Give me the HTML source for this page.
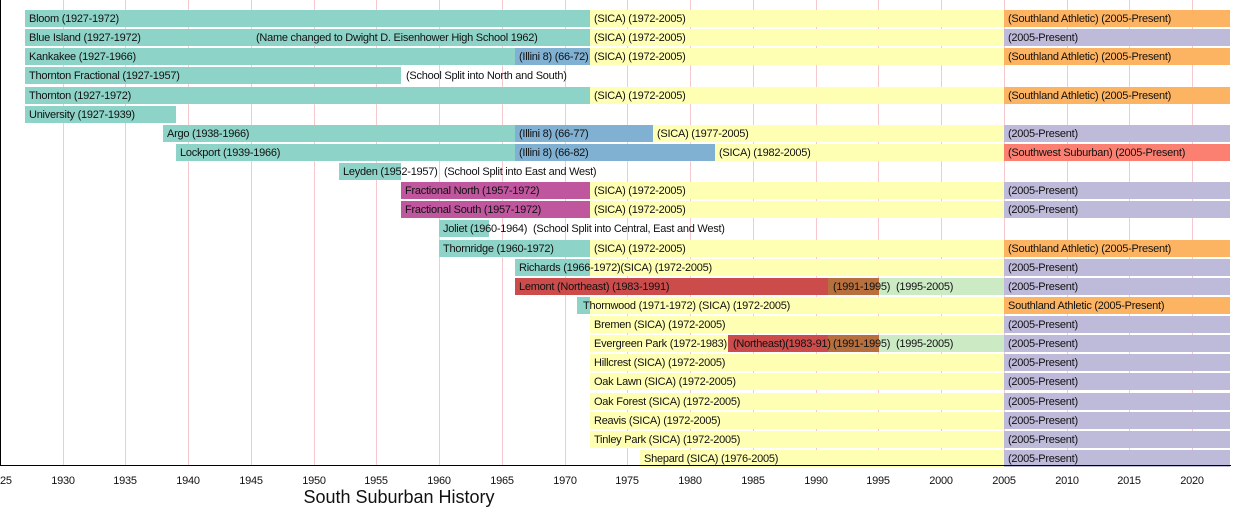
<!DOCTYPE html>
<html><head><meta charset="utf-8"><style>
body{margin:0;width:1250px;height:515px;background:#fff;position:relative;overflow:hidden;font-family:"Liberation Sans",Arial,sans-serif}
.g{position:absolute;top:0;height:465px;width:1px;background:#f6c9cf;z-index:-2}
.r{position:absolute;left:0;height:17px;width:1250px}
.b{position:absolute;top:0;height:17px;font-size:11px;letter-spacing:-0.25px;line-height:18px;padding-left:4px;box-sizing:border-box;white-space:nowrap;color:#111}
.b::before{content:"";position:absolute;left:0;top:0;right:0;bottom:0;background:var(--c);z-index:-1}
.t{position:absolute;top:0;height:17px;font-size:11px;letter-spacing:-0.25px;line-height:18px;white-space:nowrap;color:#111}
.T{--c:#8dd3c7}.Y{--c:#ffffb3}.P{--c:#bebada}.O{--c:#fdb462}.S{--c:#fb8072}.B{--c:#80b1d3}.M{--c:#c0569e}.R{--c:#cc4b4b}.N{--c:#b7703d}.G{--c:#ccebc5}
.k{position:absolute;top:475px;font-size:11px;letter-spacing:-0.25px;width:40px;margin-left:-20px;text-align:center;color:#111}
</style></head><body>
<div class="g" style="left:63px"></div><div class="g" style="left:125px"></div><div class="g" style="left:188px"></div><div class="g" style="left:251px"></div><div class="g" style="left:314px"></div><div class="g" style="left:376px"></div><div class="g" style="left:439px"></div><div class="g" style="left:502px"></div><div class="g" style="left:565px"></div><div class="g" style="left:627px"></div><div class="g" style="left:690px"></div><div class="g" style="left:753px"></div><div class="g" style="left:816px"></div><div class="g" style="left:878px"></div><div class="g" style="left:941px"></div><div class="g" style="left:1004px"></div><div class="g" style="left:1067px"></div><div class="g" style="left:1129px"></div><div class="g" style="left:1192px"></div>

<div class="r" style="top:10px"><div class="b T" style="left:25px;width:565px">Bloom (1927-1972)</div><div class="b Y" style="left:590px;width:414px">(SICA) (1972-2005)</div><div class="b O" style="left:1004px;width:226px">(Southland Athletic) (2005-Present)</div></div>
<div class="r" style="top:29px"><div class="b T" style="left:25px;width:565px">Blue Island (1927-1972)</div><div class="t" style="left:256px">(Name changed to Dwight D. Eisenhower High School 1962)</div><div class="b Y" style="left:590px;width:414px">(SICA) (1972-2005)</div><div class="b P" style="left:1004px;width:226px">(2005-Present)</div></div>
<div class="r" style="top:48px"><div class="b T" style="left:25px;width:490px">Kankakee (1927-1966)</div><div class="b B" style="left:515px;width:75px">(Illini 8) (66-72)</div><div class="b Y" style="left:590px;width:414px">(SICA) (1972-2005)</div><div class="b O" style="left:1004px;width:226px">(Southland Athletic) (2005-Present)</div></div>
<div class="r" style="top:67px"><div class="b T" style="left:25px;width:376px">Thornton Fractional (1927-1957)</div><div class="t" style="left:406px">(School Split into North and South)</div></div>
<div class="r" style="top:87px"><div class="b T" style="left:25px;width:565px">Thornton (1927-1972)</div><div class="b Y" style="left:590px;width:414px">(SICA) (1972-2005)</div><div class="b O" style="left:1004px;width:226px">(Southland Athletic) (2005-Present)</div></div>
<div class="r" style="top:106px"><div class="b T" style="left:25px;width:151px">University (1927-1939)</div></div>
<div class="r" style="top:125px"><div class="b T" style="left:163px;width:352px">Argo (1938-1966)</div><div class="b B" style="left:515px;width:138px">(Illini 8) (66-77)</div><div class="b Y" style="left:653px;width:351px">(SICA) (1977-2005)</div><div class="b P" style="left:1004px;width:226px">(2005-Present)</div></div>
<div class="r" style="top:144px"><div class="b T" style="left:176px;width:339px">Lockport (1939-1966)</div><div class="b B" style="left:515px;width:200px">(Illini 8) (66-82)</div><div class="b Y" style="left:715px;width:289px">(SICA) (1982-2005)</div><div class="b S" style="left:1004px;width:226px">(Southwest Suburban) (2005-Present)</div></div>
<div class="r" style="top:163px"><div class="b T" style="left:339px;width:62px">Leyden (1952-1957)</div><div class="t" style="left:444px">(School Split into East and West)</div></div>
<div class="r" style="top:182px"><div class="b M" style="left:401px;width:189px">Fractional North (1957-1972)</div><div class="b Y" style="left:590px;width:414px">(SICA) (1972-2005)</div><div class="b P" style="left:1004px;width:226px">(2005-Present)</div></div>
<div class="r" style="top:201px"><div class="b M" style="left:401px;width:189px">Fractional South (1957-1972)</div><div class="b Y" style="left:590px;width:414px">(SICA) (1972-2005)</div><div class="b P" style="left:1004px;width:226px">(2005-Present)</div></div>
<div class="r" style="top:220px"><div class="b T" style="left:439px;width:50px">Joliet (1960-1964)</div><div class="t" style="left:533px">(School Split into Central, East and West)</div></div>
<div class="r" style="top:240px"><div class="b T" style="left:439px;width:151px">Thornridge (1960-1972)</div><div class="b Y" style="left:590px;width:414px">(SICA) (1972-2005)</div><div class="b O" style="left:1004px;width:226px">(Southland Athletic) (2005-Present)</div></div>
<div class="r" style="top:259px"><div class="b Y" style="left:590px;width:414px"></div><div class="b T" style="left:515px;width:75px">Richards (1966-1972)(SICA) (1972-2005)</div><div class="b P" style="left:1004px;width:226px">(2005-Present)</div></div>
<div class="r" style="top:278px"><div class="b R" style="left:515px;width:313px">Lemont (Northeast) (1983-1991)</div><div class="b N" style="left:828px;width:51px;padding-left:5px">(1991-1995)</div><div class="b G" style="left:879px;width:125px;padding-left:17px">(1995-2005)</div><div class="b P" style="left:1004px;width:226px">(2005-Present)</div></div>
<div class="r" style="top:297px"><div class="b Y" style="left:590px;width:414px"></div><div class="b T" style="left:577px;width:13px;padding-left:6px">Thornwood (1971-1972) (SICA) (1972-2005)</div><div class="b O" style="left:1004px;width:226px">Southland Athletic (2005-Present)</div></div>
<div class="r" style="top:316px"><div class="b Y" style="left:590px;width:414px">Bremen (SICA) (1972-2005)</div><div class="b P" style="left:1004px;width:226px">(2005-Present)</div></div>
<div class="r" style="top:335px"><div class="b Y" style="left:590px;width:138px">Evergreen Park (1972-1983)</div><div class="b R" style="left:728px;width:100px;padding-left:5px">(Northeast)(1983-91)</div><div class="b N" style="left:828px;width:51px;padding-left:5px">(1991-1995)</div><div class="b G" style="left:879px;width:125px;padding-left:17px">(1995-2005)</div><div class="b P" style="left:1004px;width:226px">(2005-Present)</div></div>
<div class="r" style="top:354px"><div class="b Y" style="left:590px;width:414px">Hillcrest (SICA) (1972-2005)</div><div class="b P" style="left:1004px;width:226px">(2005-Present)</div></div>
<div class="r" style="top:373px"><div class="b Y" style="left:590px;width:414px">Oak Lawn (SICA) (1972-2005)</div><div class="b P" style="left:1004px;width:226px">(2005-Present)</div></div>
<div class="r" style="top:393px"><div class="b Y" style="left:590px;width:414px">Oak Forest (SICA) (1972-2005)</div><div class="b P" style="left:1004px;width:226px">(2005-Present)</div></div>
<div class="r" style="top:412px"><div class="b Y" style="left:590px;width:414px">Reavis (SICA) (1972-2005)</div><div class="b P" style="left:1004px;width:226px">(2005-Present)</div></div>
<div class="r" style="top:431px"><div class="b Y" style="left:590px;width:414px">Tinley Park (SICA) (1972-2005)</div><div class="b P" style="left:1004px;width:226px">(2005-Present)</div></div>
<div class="r" style="top:450px"><div class="b Y" style="left:640px;width:364px">Shepard (SICA) (1976-2005)</div><div class="b P" style="left:1004px;width:226px">(2005-Present)</div></div>

<div style="position:absolute;left:0;top:0;width:1px;height:466px;background:#000"></div>
<div style="position:absolute;left:0;top:465px;width:1231px;height:1px;background:#000"></div>

<div class="k" style="left:0">1925</div><div class="k" style="left:63px">1930</div><div class="k" style="left:125px">1935</div><div class="k" style="left:188px">1940</div><div class="k" style="left:251px">1945</div><div class="k" style="left:314px">1950</div><div class="k" style="left:376px">1955</div><div class="k" style="left:439px">1960</div><div class="k" style="left:502px">1965</div><div class="k" style="left:565px">1970</div><div class="k" style="left:627px">1975</div><div class="k" style="left:690px">1980</div><div class="k" style="left:753px">1985</div><div class="k" style="left:816px">1990</div><div class="k" style="left:878px">1995</div><div class="k" style="left:941px">2000</div><div class="k" style="left:1004px">2005</div><div class="k" style="left:1067px">2010</div><div class="k" style="left:1129px">2015</div><div class="k" style="left:1192px">2020</div>

<div style="position:absolute;left:200px;width:398px;top:487px;text-align:center;font-size:18px;color:#111">South Suburban History</div>
</body></html>
